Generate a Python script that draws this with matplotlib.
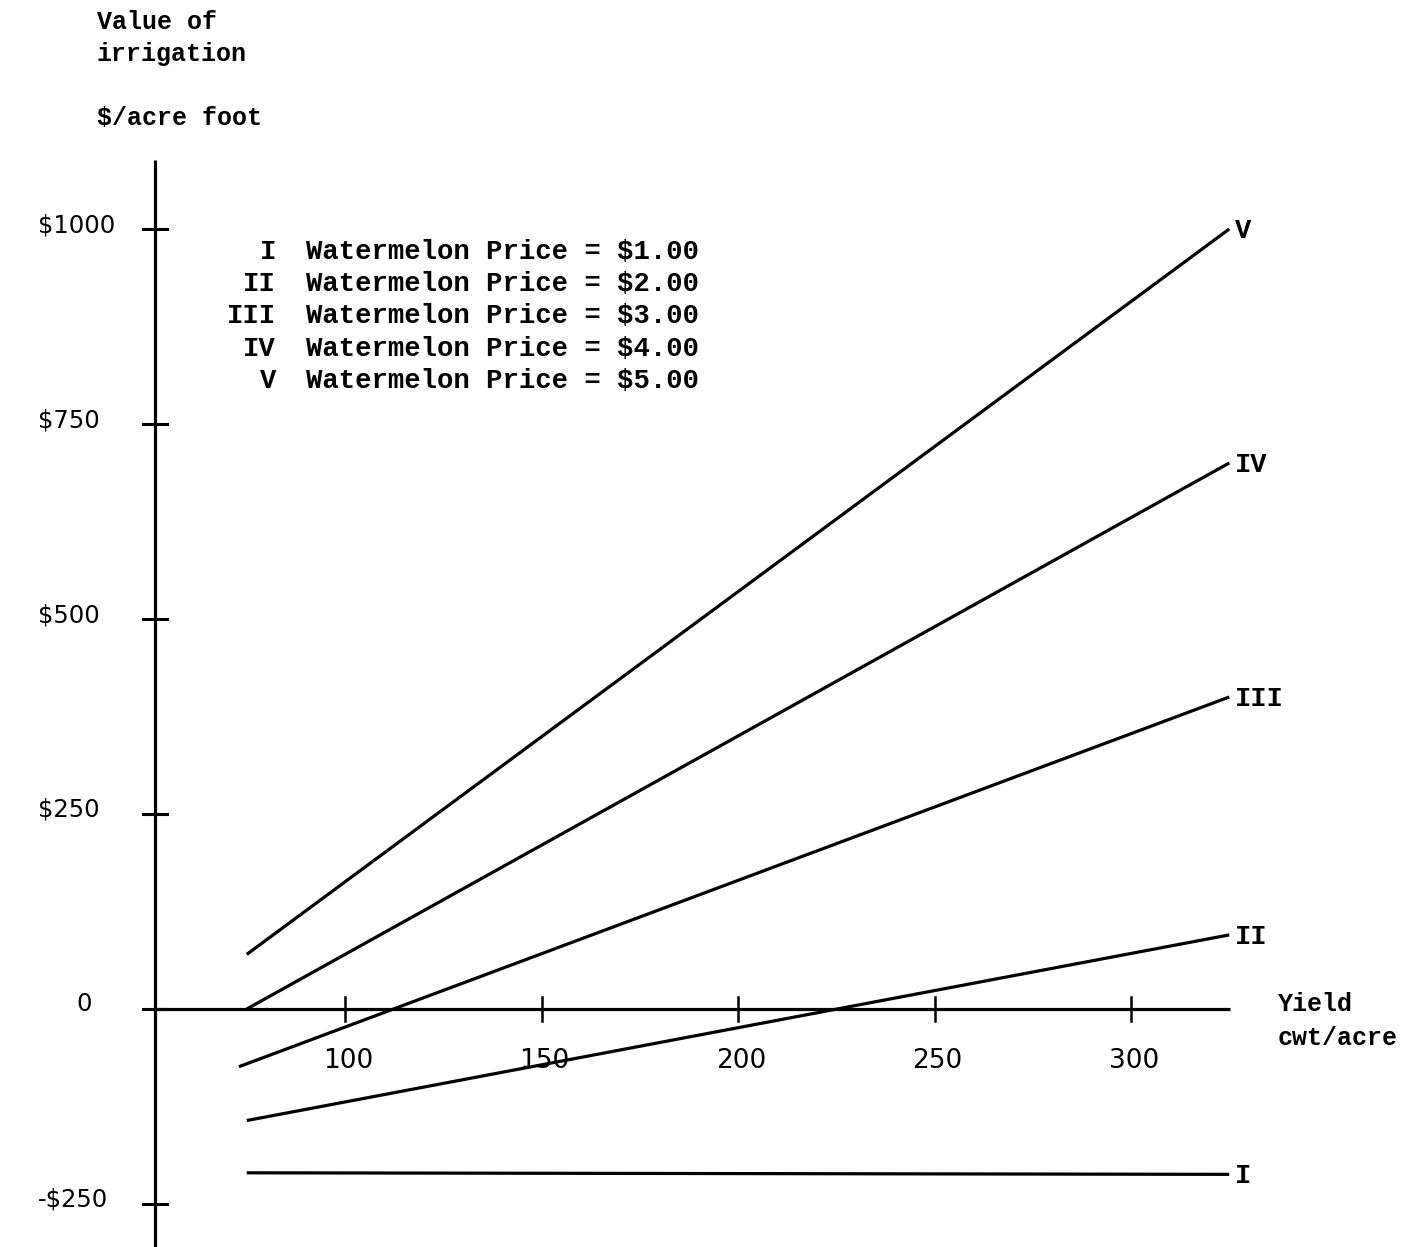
import matplotlib
matplotlib.use("Agg")
import matplotlib.pyplot as plt

# Yield range (cwt/acre) over which each price line is drawn
yield_start = [75, 75, 73, 75, 75]
yield_end = [325, 325, 325, 325, 325]

# Value of irrigation ($/acre foot) at the two ends of each line
series_names = ["I", "II", "III", "IV", "V"]
value_start = [-210, -143, -74, 0, 70]
value_end = [-212, 95, 400, 700, 1000]
prices = ["$1.00", "$2.00", "$3.00", "$4.00", "$5.00"]

x_ticks = [100, 150, 200, 250, 300]
x_tick_labels = ["100", "150", "200", "250", "300"]
y_ticks = [1000, 750, 500, 250, 0, -250]
y_tick_labels = ["$1000", "$750", "$500", "$250", "0", "-$250"]

W, H, DPI = 14.16, 12.47, 100
fig = plt.figure(figsize=(W, H), dpi=DPI)
ax = fig.add_axes([0, 0, 1, 1])

# pixel scale of the drawing: 3.93 px per cwt, 0.78 px per dollar
px_per_x = 3.93
px_per_y = 0.78
x0_px, y0_px = 345, 1009  # pixel location of yield 100 / value 0
ax.set_xlim(100 - x0_px / px_per_x, 100 + (1416 - x0_px) / px_per_x)
ax.set_ylim(-(1247 - y0_px) / px_per_y, y0_px / px_per_y)

axis_x = 100 - (x0_px - 155) / px_per_x
y_axis_top = (y0_px - 160) / px_per_y
x_axis_end = 100 + (1230 - x0_px) / px_per_x

lw = 2.3
mono = "Liberation Mono"
sans = "DejaVu Sans"

# axes drawn as crossing lines
ax.plot([axis_x, axis_x], [ax.get_ylim()[0], y_axis_top], color="black", lw=lw, solid_capstyle="butt")
ax.plot([axis_x, x_axis_end], [0, 0], color="black", lw=lw, solid_capstyle="butt")

for spine in ax.spines.values():
    spine.set_visible(False)
ax.set_xticks([])
ax.set_yticks([])

# cross ticks
tick_dx = 12 / px_per_x
tick_dy = 12 / px_per_y
for xv in x_ticks:
    ax.plot([xv, xv], [-tick_dy, tick_dy], color="black", lw=1.8)
for yv in y_ticks:
    ax.plot([axis_x - tick_dx, axis_x + tick_dx], [yv, yv], color="black", lw=2.2)

# tick labels
for xv, lab in zip(x_ticks, x_tick_labels):
    ax.text(xv + 0.8, -52 / px_per_y, lab, ha="center", va="center",
            fontsize=19, family=sans)
label_left = 100 - (x0_px - 38) / px_per_x
for yv, lab in zip(y_ticks, y_tick_labels):
    if lab == "0":
        ax.text(100 - (x0_px - 84) / px_per_x, yv + 5 / px_per_y, lab,
                ha="center", va="center", fontsize=17.5, family=sans)
    else:
        ax.text(label_left, yv + 4 / px_per_y, lab, ha="left", va="center",
                fontsize=17.5, family=sans)

# price lines with end labels
for name, xs, xe, vs, ve in zip(series_names, yield_start, yield_end, value_start, value_end):
    ax.plot([xs, xe], [vs, ve], color="black", lw=lw, solid_capstyle="butt")
    ax.text(xe + 1.5, ve - 2 / px_per_y, name, ha="left", va="center",
            fontsize=19.5, family=mono, fontweight="bold")

# key
key_x_num = 100 - (x0_px - 276) / px_per_x
key_x_txt = 100 - (x0_px - 306) / px_per_x
for i, (name, p) in enumerate(zip(series_names, prices)):
    yk = (y0_px - (252 + 32.2 * i)) / px_per_y
    ax.text(key_x_num, yk, name, ha="right", va="center", fontsize=19.6,
            family=mono, fontweight="bold")
    ax.text(key_x_txt, yk, f"Watermelon Price = {p}", ha="left", va="center",
            fontsize=19.6, family=mono, fontweight="bold")

# axis titles
fig.text(97 / 1416, 1 - 22 / 1247, "Value of", ha="left", va="center",
         fontsize=18, family=mono, fontweight="bold")
fig.text(97 / 1416, 1 - 54 / 1247, "irrigation", ha="left", va="center",
         fontsize=18, family=mono, fontweight="bold")
fig.text(97 / 1416, 1 - 118 / 1247, "$/acre foot", ha="left", va="center",
         fontsize=18, family=mono, fontweight="bold")
fig.text(1278 / 1416, 1 - 1004 / 1247, "Yield", ha="left", va="center",
         fontsize=18, family=mono, fontweight="bold")
fig.text(1278 / 1416, 1 - 1038 / 1247, "cwt/acre", ha="left", va="center",
         fontsize=18, family=mono, fontweight="bold")

fig.savefig("out.png", dpi=DPI, facecolor="white")
